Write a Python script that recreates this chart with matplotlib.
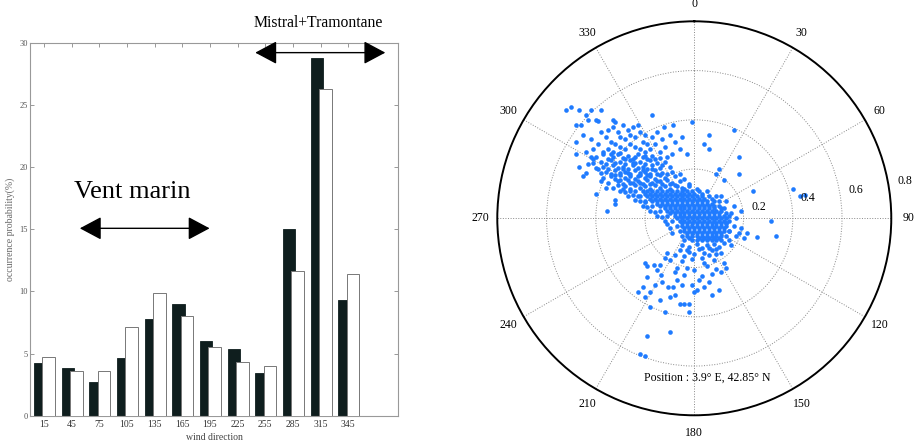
import numpy as np
import matplotlib
matplotlib.use("Agg")
import matplotlib.pyplot as plt
from matplotlib.patches import FancyArrowPatch

plt.rcParams['font.family'] = ['Liberation Serif', 'DejaVu Serif']

#-----------------bar chart data----------------
directions = [15, 45, 75, 105, 135, 165, 195, 225, 255, 285, 315, 345]
prob_dark = [4.2, 3.8, 2.7, 4.6, 7.8, 8.95, 6.0, 5.4, 3.4, 15.0, 28.8, 9.3]
prob_white = [4.75, 3.6, 3.6, 7.1, 9.9, 8.0, 5.5, 4.3, 4.0, 11.66, 26.3, 11.4]
y_ticks = [0, 5, 10, 15, 20, 25, 30]

#-----------------polar scatter data (east / north components)----------------
# sparse points around the cloud
sparse = [(-0.52, 0.44), (-0.50, 0.45), (-0.47, 0.44), (-0.42, 0.44), (-0.38, 0.44), (-0.44, 0.42),
          (-0.48, 0.38), (-0.46, 0.38), (-0.43, 0.40), (-0.40, 0.40), (-0.39, 0.395), (-0.33, 0.40),
          (-0.32, 0.39), (-0.17, 0.42), (-0.085, 0.38), (-0.125, 0.37), (-0.01, 0.39), (0.16, 0.36),
          (0.06, 0.34), (0.04, 0.30), (0.06, 0.28), (0.18, 0.25), (0.18, 0.18), (0.10, 0.20),
          (0.09, 0.18), (0.12, 0.155), (0.24, 0.11), (0.40, 0.12), (0.43, 0.09), (0.45, 0.095),
          (0.31, -0.01), (0.33, -0.07), (0.255, -0.075), (0.215, -0.06), (0.19, 0.03), (-0.48, 0.31),
          (-0.44, 0.27), (-0.41, 0.24), (-0.48, 0.26), (-0.47, 0.21), (-0.44, 0.185), (-0.45, 0.17),
          (-0.40, 0.10), (-0.32, 0.075), (-0.32, 0.06), (-0.355, 0.03), (-0.20, -0.18), (-0.19, -0.195),
          (-0.165, -0.19), (-0.14, -0.19), (-0.21, -0.28), (-0.20, -0.32), (-0.18, -0.30), (-0.105, -0.28),
          (-0.085, -0.28), (-0.05, -0.27), (-0.01, -0.27), (0.01, -0.29), (0.07, -0.31), (0.10, -0.29),
          (-0.18, -0.36), (-0.12, -0.38), (-0.06, -0.35), (-0.04, -0.35), (-0.02, -0.35), (-0.02, -0.38),
          (-0.10, -0.46), (-0.19, -0.48), (-0.22, -0.55), (-0.20, -0.56), (-0.10, -0.32), (-0.19, -0.24),
          (-0.135, -0.23), (0.0, -0.30),
          # right of the core
          (0.15, 0.02), (0.16, -0.03), (0.17, -0.07), (0.14, -0.09), (0.16, 0.05), (0.13, 0.07),
          (0.19, -0.04), (0.12, -0.10), (0.15, -0.11), (0.11, 0.09), (0.13, -0.02), (0.14, 0.01),
          (0.17, 0.0), (0.18, -0.06), (0.20, -0.08), (0.14, -0.05), (0.12, 0.04),
          # below the core
          (-0.05, -0.11), (-0.02, -0.115), (0.01, -0.105), (0.03, -0.12), (0.05, -0.11), (0.08, -0.105),
          (0.10, -0.115), (-0.06, -0.13), (-0.02, -0.135), (0.02, -0.125), (0.04, -0.14), (0.07, -0.13),
          (0.09, -0.125), (-0.08, -0.15), (-0.04, -0.155), (0.00, -0.145), (0.03, -0.16), (0.06, -0.15),
          (0.09, -0.145), (-0.10, -0.17), (-0.05, -0.175), (-0.01, -0.165), (0.04, -0.18), (0.08, -0.17),
          (-0.07, -0.20), (0.00, -0.21), (0.05, -0.195), (0.09, -0.205), (-0.04, -0.23), (0.03, -0.235),
          (0.07, -0.225), (-0.12, -0.16), (-0.15, -0.21), (-0.08, -0.22), (-0.03, -0.20), (0.02, -0.25),
          (0.06, -0.26), (0.11, -0.22), (0.12, -0.18), (-0.13, -0.26), (-0.07, -0.25), (0.04, -0.28),
          (-0.16, -0.27), (-0.23, -0.30), (-0.14, -0.33), (-0.08, -0.31), (0.11, -0.14), (0.13, -0.20),
          (-0.11, -0.14), (-0.03, -0.13), (0.06, -0.12)]

# north-west part (medium density)
northwest = [(-0.33, 0.37), (-0.31, 0.35), (-0.29, 0.38), (-0.27, 0.36), (-0.25, 0.37), (-0.23, 0.38),
             (-0.30, 0.33), (-0.28, 0.32), (-0.26, 0.34), (-0.24, 0.33), (-0.22, 0.35), (-0.20, 0.34),
             (-0.34, 0.31), (-0.32, 0.30), (-0.36, 0.33), (-0.38, 0.35), (-0.35, 0.36), (-0.21, 0.31),
             (-0.19, 0.30), (-0.17, 0.33), (-0.15, 0.35), (-0.13, 0.32), (-0.10, 0.34), (-0.08, 0.31),
             (-0.05, 0.33), (-0.12, 0.29), (-0.06, 0.28), (-0.03, 0.26), (-0.09, 0.26), (-0.39, 0.30),
             (-0.41, 0.28), (-0.37, 0.27), (-0.35, 0.28), (-0.33, 0.27), (-0.30, 0.29), (-0.28, 0.28),
             (-0.26, 0.30), (-0.24, 0.29), (-0.22, 0.28), (-0.20, 0.27), (-0.18, 0.28), (-0.16, 0.30),
             (-0.14, 0.27), (-0.11, 0.25), (-0.42, 0.32), (-0.45, 0.34),
             (-0.40, 0.25), (-0.37, 0.26), (-0.35, 0.24), (-0.33, 0.25), (-0.31, 0.26), (-0.29, 0.245),
             (-0.27, 0.255), (-0.25, 0.24), (-0.23, 0.26), (-0.21, 0.25), (-0.19, 0.24), (-0.17, 0.255),
             (-0.14, 0.245), (-0.41, 0.225), (-0.38, 0.23), (-0.36, 0.22), (-0.34, 0.235), (-0.32, 0.225),
             (-0.30, 0.23), (-0.28, 0.22), (-0.26, 0.235), (-0.24, 0.225), (-0.22, 0.23), (-0.20, 0.22),
             (-0.18, 0.235), (-0.15, 0.225), (-0.12, 0.23), (-0.40, 0.205), (-0.37, 0.21), (-0.35, 0.20),
             (-0.33, 0.215), (-0.31, 0.205), (-0.29, 0.21), (-0.27, 0.20), (-0.25, 0.215), (-0.23, 0.205),
             (-0.21, 0.21), (-0.19, 0.20), (-0.17, 0.215), (-0.14, 0.205), (-0.10, 0.21), (-0.38, 0.185),
             (-0.36, 0.19), (-0.34, 0.18), (-0.32, 0.195), (-0.30, 0.185), (-0.28, 0.19), (-0.26, 0.18),
             (-0.24, 0.195), (-0.22, 0.185), (-0.20, 0.19), (-0.18, 0.18), (-0.16, 0.195), (-0.13, 0.185),
             (-0.09, 0.19), (-0.06, 0.18), (-0.37, 0.165), (-0.34, 0.17), (-0.32, 0.16), (-0.30, 0.175),
             (-0.28, 0.165), (-0.26, 0.17), (-0.24, 0.16), (-0.22, 0.175), (-0.20, 0.165), (-0.18, 0.17),
             (-0.16, 0.16), (-0.14, 0.175), (-0.12, 0.165), (-0.08, 0.17), (-0.04, 0.16), (-0.35, 0.145),
             (-0.31, 0.15), (-0.29, 0.14), (-0.27, 0.155), (-0.25, 0.145), (-0.23, 0.15), (-0.21, 0.14),
             (-0.19, 0.155), (-0.17, 0.145), (-0.15, 0.15), (-0.13, 0.14), (-0.11, 0.155), (-0.09, 0.145),
             (-0.06, 0.15), (-0.02, 0.14), (-0.33, 0.125), (-0.28, 0.13), (-0.26, 0.12), (-0.24, 0.135),
             (-0.22, 0.125), (-0.20, 0.13), (-0.18, 0.12), (-0.16, 0.135), (-0.14, 0.125), (-0.12, 0.13),
             (-0.10, 0.12), (-0.08, 0.135), (-0.05, 0.125), (-0.02, 0.13), (0.01, 0.12),
             (-0.30, 0.11), (-0.28, 0.105), (-0.26, 0.11), (-0.27, 0.09), (-0.25, 0.095), (-0.23, 0.09),
             (-0.24, 0.075), (-0.22, 0.07), (-0.20, 0.065), (-0.21, 0.05), (-0.19, 0.045), (-0.18, 0.03),
             (-0.16, 0.025), (-0.15, 0.01), (-0.13, 0.005), (-0.12, -0.01), (-0.11, -0.025), (-0.10, -0.04),
             (-0.09, -0.06), (-0.29, 0.12), (-0.31, 0.135), (-0.36, 0.125), (-0.38, 0.15), (-0.39, 0.20),
             (-0.43, 0.22), (-0.42, 0.25), (-0.32, 0.175), (-0.27, 0.185), (-0.23, 0.17), (-0.19, 0.175),
             (-0.15, 0.18), (-0.11, 0.18), (-0.29, 0.20), (-0.25, 0.225), (-0.21, 0.195), (-0.17, 0.20),
             (-0.13, 0.215), (-0.30, 0.155), (-0.26, 0.145), (-0.22, 0.145), (-0.18, 0.14), (-0.14, 0.15),
             (-0.10, 0.14), (-0.07, 0.13), (-0.04, 0.12), (-0.28, 0.24), (-0.24, 0.25), (-0.20, 0.255),
             (-0.16, 0.24), (-0.34, 0.26), (-0.30, 0.265)]

# dense core, one row of east values for each north value
core_v = [0.11, 0.10, 0.09, 0.08, 0.07, 0.06, 0.05, 0.04, 0.03, 0.02, 0.01, 0.00,
          -0.01, -0.02, -0.03, -0.04, -0.05, -0.06, -0.07, -0.08, -0.09]
core_u = [[-0.24, -0.21, -0.19, -0.17, -0.15, -0.13, -0.11, -0.09, -0.07, -0.05, -0.03, -0.01, 0.02, 0.05],
          [-0.20, -0.18, -0.16, -0.14, -0.12, -0.10, -0.08, -0.06, -0.04, -0.02, 0.00, 0.03],
          [-0.22, -0.19, -0.17, -0.15, -0.13, -0.11, -0.09, -0.07, -0.05, -0.03, -0.01, 0.01, 0.03, 0.06, 0.09],
          [-0.18, -0.16, -0.14, -0.12, -0.10, -0.08, -0.06, -0.04, -0.02, 0.00, 0.02, 0.04, 0.07],
          [-0.20, -0.17, -0.15, -0.13, -0.11, -0.09, -0.07, -0.05, -0.03, -0.01, 0.01, 0.03, 0.05, 0.08, 0.10],
          [-0.15, -0.13, -0.11, -0.09, -0.07, -0.05, -0.03, -0.01, 0.01, 0.03, 0.05, 0.07],
          [-0.17, -0.14, -0.12, -0.10, -0.08, -0.06, -0.04, -0.02, 0.00, 0.02, 0.04, 0.06, 0.08, 0.10],
          [-0.12, -0.10, -0.08, -0.06, -0.04, -0.02, 0.00, 0.02, 0.04, 0.06, 0.08, 0.11],
          [-0.14, -0.11, -0.09, -0.07, -0.05, -0.03, -0.01, 0.01, 0.03, 0.05, 0.07, 0.09, 0.11],
          [-0.10, -0.08, -0.06, -0.04, -0.02, 0.00, 0.02, 0.04, 0.06, 0.08, 0.10, 0.13],
          [-0.11, -0.08, -0.06, -0.04, -0.02, 0.00, 0.02, 0.04, 0.06, 0.08, 0.10, 0.12],
          [-0.07, -0.05, -0.03, -0.01, 0.01, 0.03, 0.05, 0.07, 0.09, 0.11, 0.13],
          [-0.09, -0.06, -0.04, -0.02, 0.00, 0.02, 0.04, 0.06, 0.08, 0.10, 0.12, 0.14],
          [-0.05, -0.03, -0.01, 0.01, 0.03, 0.05, 0.07, 0.09, 0.11, 0.13],
          [-0.07, -0.05, -0.03, -0.01, 0.01, 0.03, 0.05, 0.07, 0.09, 0.11, 0.13],
          [-0.04, -0.02, 0.00, 0.02, 0.04, 0.06, 0.08, 0.10, 0.12],
          [-0.06, -0.04, -0.02, 0.00, 0.02, 0.04, 0.06, 0.08, 0.10, 0.12, 0.14],
          [-0.03, -0.01, 0.01, 0.03, 0.05, 0.07, 0.09, 0.11],
          [-0.05, -0.03, -0.01, 0.01, 0.03, 0.05, 0.07, 0.09, 0.11, 0.13],
          [-0.02, 0.02, 0.04, 0.06, 0.08, 0.10],
          [-0.04, -0.01, 0.01, 0.03, 0.05, 0.07, 0.09, 0.11]]

angle_ticks = list(range(0, 360, 30))
r_ticks = [0.2, 0.4, 0.6, 0.8]
#---------------------------------------------

fig = plt.figure(figsize=(9.18, 4.41), dpi=100)

#-----------bar chart-------------
ax1 = fig.add_axes([0.0327, 0.0574, 0.4009, 0.8458])
x = np.arange(1, len(directions) + 1)
ax1.bar(x - 0.135, prob_dark, width=0.45, color='#0f1e1e', edgecolor='#0f1e1e', linewidth=0.6, zorder=2)
ax1.bar(x + 0.17, prob_white, width=0.46, color='white', edgecolor='#777777', linewidth=0.7, zorder=3)
ax1.set_xlim(0.5, 13.8)
ax1.set_ylim(0, 30)
ax1.set_xticks(x)
ax1.set_xticklabels([str(d) for d in directions], fontsize=7, color='#333333')
ax1.set_yticks(y_ticks)
ax1.set_yticklabels([str(t) for t in y_ticks], fontsize=6, color='#555555')
ax1.tick_params(direction='in', top=True, right=True, length=3, width=0.6, color='#888888')
ax1.tick_params(axis='x', pad=3)
ax1.tick_params(axis='y', pad=1.5)
for s in ax1.spines.values():
    s.set_color('#999999')
    s.set_linewidth(0.8)
ax1.set_ylabel('occurrence probability(%)', fontsize=7, color='#666666', labelpad=3)
ax1.set_xlabel('wind direction', fontsize=7, color='#444444', labelpad=3)

# wind regime arrows
arr = dict(arrowstyle='<|-|>,head_length=13.5,head_width=7.2', mutation_scale=1,
           color='black', linewidth=1.0, shrinkA=0, shrinkB=0, clip_on=False, zorder=5)
ax1.add_patch(FancyArrowPatch((2.30, 15.07), (6.99, 15.07), **arr))
ax1.add_patch(FancyArrowPatch((8.64, 29.2), (13.34, 29.2), **arr))
ax1.text(2.08, 17.5, 'Vent marin', fontsize=19, ha='left', va='baseline')
ax1.text(8.57, 31.27, 'Mistral+Tramontane', fontsize=11.3, ha='left', va='baseline', clip_on=False)

#-----------polar scatter-------------
u = [p[0] for p in sparse] + [p[0] for p in northwest]
v = [p[1] for p in sparse] + [p[1] for p in northwest]
for row_v, row_u in zip(core_v, core_u):
    u += row_u
    v += [row_v] * len(row_u)
u = np.array(u)
v = np.array(v)
theta = np.arctan2(u, v)
r = np.hypot(u, v)

ax2 = fig.add_axes([0.5417, 0.0583, 0.4292, 0.8934], projection='polar')
ax2.set_theta_zero_location('N')
ax2.set_theta_direction(-1)
ax2.scatter(theta, r, s=11, color='#1f7bff', linewidths=0, zorder=3)
ax2.set_ylim(0, 0.8)
ax2.set_thetagrids(angle_ticks, [str(a) for a in angle_ticks], fontsize=8.5)
ax2.tick_params(axis='x', pad=2)
ax2.set_yticks(r_ticks)
ax2.set_yticklabels([])
for rt in r_ticks:
    ax2.text(np.deg2rad(80), rt + 0.067, '%.1f' % rt, fontsize=8.5, ha='center', va='center', clip_on=False)
ax2.grid(True, color='#888888', linestyle=':', linewidth=0.7)
ax2.spines['polar'].set_linewidth(1.4)
ax2.spines['polar'].set_color('black')
fig.text(0.770, 0.143, 'Position : 3.9° E, 42.85° N', fontsize=8.5, ha='center', va='center')

fig.savefig('out.png', dpi=100)
